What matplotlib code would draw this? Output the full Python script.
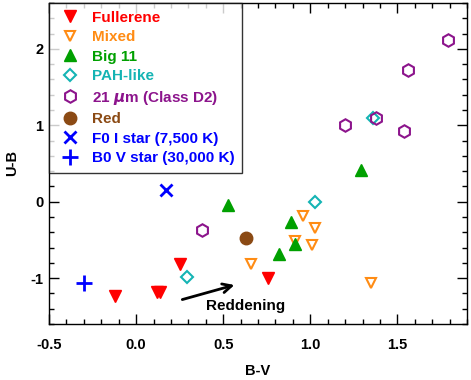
import matplotlib
matplotlib.use("Agg")
import matplotlib.pyplot as plt

plt.rcParams['font.family'] = ['Liberation Sans', 'DejaVu Sans']
plt.rcParams['font.weight'] = 'bold'
plt.rcParams['axes.unicode_minus'] = False
plt.rcParams['mathtext.default'] = 'it'

# Data (B-V, U-B)
fullerene_x = [-0.12, 0.12, 0.14, 0.25, 0.76]
fullerene_y = [-1.24, -1.18, -1.18, -0.81, -1.00]
mixed_x = [0.66, 0.96, 1.03, 0.91, 1.01, 1.35]
mixed_y = [-0.82, -0.19, -0.34, -0.51, -0.57, -1.07]
big11_x = [0.53, 0.89, 0.91, 0.82, 1.29]
big11_y = [-0.04, -0.27, -0.55, -0.68, 0.42]
pah_x = [0.29, 1.03, 1.36]
pah_y = [-0.98, 0.00, 1.09]
d2_x = [0.38, 1.20, 1.38, 1.54, 1.56, 1.79]
d2_y = [-0.37, 1.00, 1.10, 0.93, 1.72, 2.12]
red_x = [0.63]
red_y = [-0.48]
f0_x = [0.17]
f0_y = [0.15]
b0_x = [-0.30]
b0_y = [-1.07]
arrow_start = (0.25, -1.29)
arrow_end = (0.58, -1.08)

labels = ["Fullerene", "Mixed", "Big 11", "PAH-like", r"21 $\mu$m (Class D2)",
          "Red", "F0 I star (7,500 K)", "B0 V star (30,000 K)"]
colors = ["#ff0000", "#ff8c14", "#00a000", "#14b4b4", "#8c148c",
          "#8b4a14", "#0000ff", "#0000ff"]

fig = plt.figure(figsize=(4.71, 3.80), dpi=100)
ax = fig.add_axes([49/471, 1-324/380, (467-49)/471, (324-3)/380])

ax.plot(fullerene_x, fullerene_y, 'v', ms=9, color=colors[0], ls='none', label=labels[0])
ax.plot(mixed_x, mixed_y, 'v', ms=6.5, mfc='none', mec=colors[1], mew=1.5, ls='none', label=labels[1])
ax.plot(big11_x, big11_y, '^', ms=9, color=colors[2], ls='none', label=labels[2])
ax.plot(pah_x, pah_y, 'D', ms=6, mfc='none', mec=colors[3], mew=1.5, ls='none', label=labels[3])
ax.plot(d2_x, d2_y, 'h', ms=9, mfc='none', mec=colors[4], mew=1.5, ls='none', label=labels[4])
ax.plot(red_x, red_y, 'o', ms=9, color=colors[5], ls='none', label=labels[5])
ax.plot(f0_x, f0_y, 'x', ms=9, mew=2, color=colors[6], ls='none', label=labels[6])
ax.plot(b0_x, b0_y, '+', ms=11, mew=2, color=colors[7], ls='none', label=labels[7])

ax.annotate('', xy=arrow_end, xytext=arrow_start,
            arrowprops=dict(arrowstyle='->', color='black', lw=2, mutation_scale=16))
ax.text(0.63, -1.37, "Reddening", ha='center', va='center', fontsize=11, fontweight='bold')

ax.set_xlim(-0.5, 1.9)
ax.set_ylim(-1.6, 2.6)
ax.set_xticks([-0.5, 0.0, 0.5, 1.0, 1.5])
ax.set_xticklabels(["-0.5", "0.0", "0.5", "1.0", "1.5"])
ax.set_yticks([-1, 0, 1, 2])
ax.set_yticklabels(["-1", "0", "1", "2"])
ax.set_xticks([x/10 for x in range(-5, 20)], minor=True)
ax.set_yticks([y/5 for y in range(-8, 14)], minor=True)
ax.tick_params(which='both', direction='in', top=True, right=True, labelsize=10.5, width=1)
ax.tick_params(which='major', length=7)
ax.tick_params(which='minor', length=3.5)
ax.tick_params(axis='x', which='major', pad=10)
ax.tick_params(axis='y', which='major', pad=4)
for lab in ax.get_xticklabels() + ax.get_yticklabels():
    lab.set_fontweight('bold')
for s in ax.spines.values():
    s.set_linewidth(1)

ax.set_xlabel("B-V", fontsize=10.5, fontweight='bold', labelpad=9)
ax.set_ylabel("U-B", fontsize=10.5, fontweight='bold', labelpad=8)

leg = ax.legend(loc='upper left', borderaxespad=0, fontsize=11, frameon=True, fancybox=False,
                edgecolor='black', borderpad=0.5, handlelength=1.74, handletextpad=0.57,
                labelspacing=0.36, numpoints=1)
leg.get_frame().set_linewidth(1)
for txt, c in zip(leg.get_texts(), colors):
    txt.set_color(c)
    txt.set_fontweight('bold')

fig.savefig("out.png", dpi=100)
